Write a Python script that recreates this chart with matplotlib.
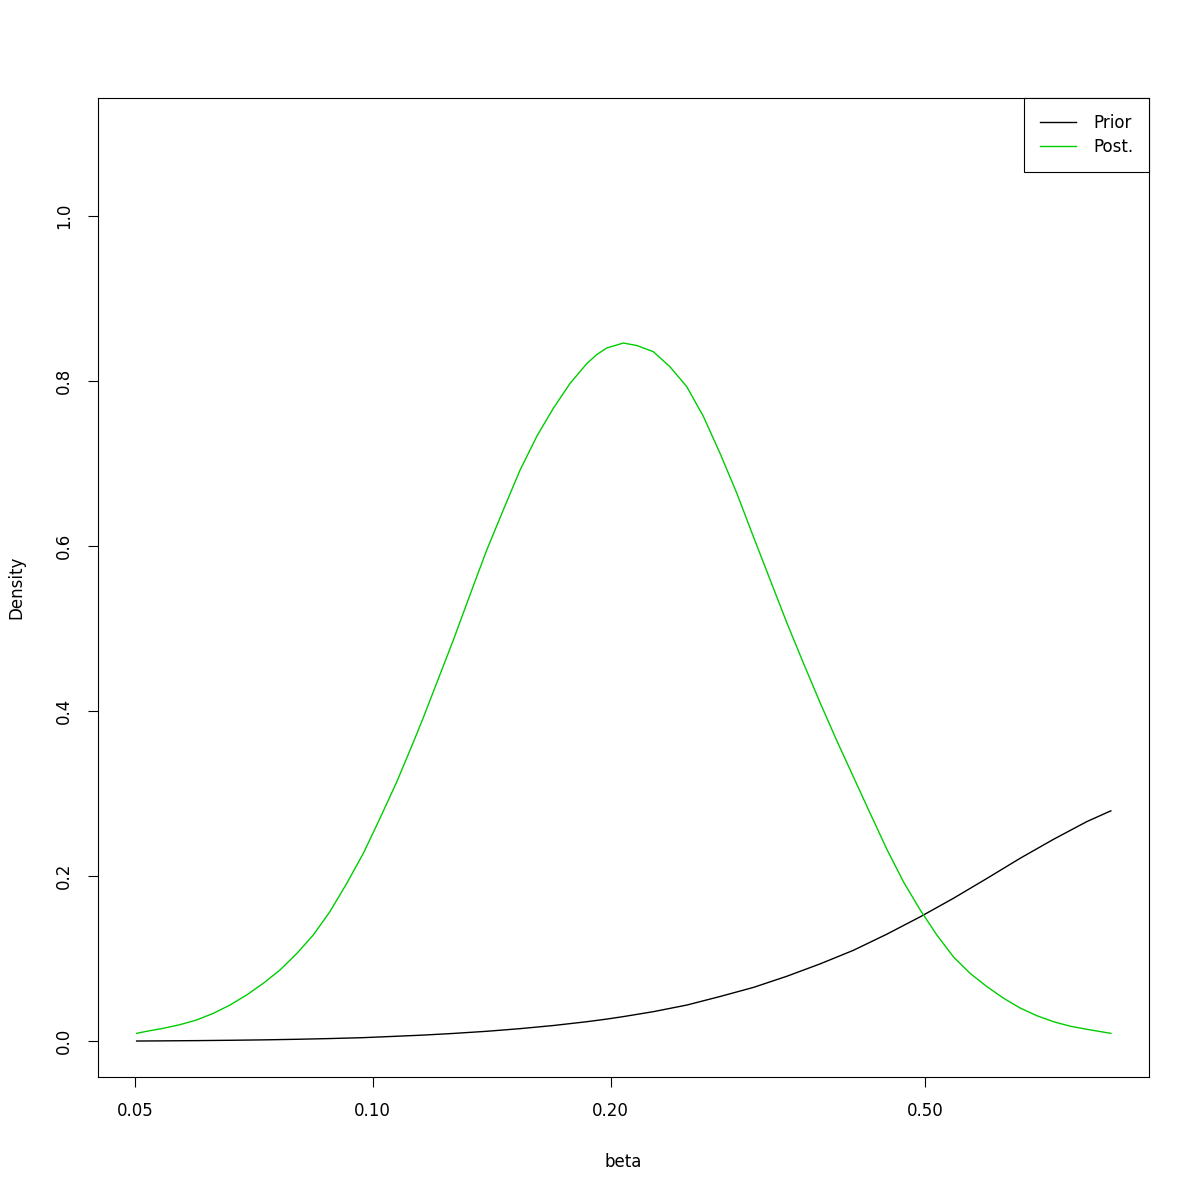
import numpy as np
import matplotlib
matplotlib.use('Agg')
import matplotlib.pyplot as plt
from matplotlib.ticker import FixedLocator, FixedFormatter, NullLocator

# values (log x axis)
beta_prior = [0.05025, 0.05430, 0.05985, 0.06595, 0.07268, 0.08011, 0.08828, 0.09728,
              0.10722, 0.11586, 0.12645, 0.13936, 0.15358, 0.16924, 0.18651, 0.19773,
              0.20752, 0.22651, 0.24968, 0.27515, 0.30321, 0.33415, 0.36820, 0.40578,
              0.44719, 0.49276, 0.54300, 0.59845, 0.65950, 0.72685, 0.80110, 0.85900]
prior = [0.0000, 0.0002, 0.0005, 0.0009, 0.0014, 0.0021, 0.0030, 0.0041,
         0.0058, 0.0072, 0.0092, 0.0118, 0.0150, 0.0188, 0.0234, 0.0266,
         0.0296, 0.0356, 0.0436, 0.0540, 0.0650, 0.0785, 0.0935, 0.1100,
         0.1295, 0.1505, 0.1730, 0.1970, 0.2215, 0.2445, 0.2660, 0.2790]

beta_post = [0.05025, 0.05174, 0.05430, 0.05700, 0.05985, 0.06281, 0.06595, 0.06924,
             0.07268, 0.07629, 0.08011, 0.08408, 0.08828, 0.09268, 0.09728, 0.10212,
             0.10722, 0.11253, 0.11586, 0.12048, 0.12645, 0.13276, 0.13936, 0.14631,
             0.15358, 0.16127, 0.16924, 0.17765, 0.18651, 0.19205, 0.19773, 0.20752,
             0.21579, 0.22651, 0.23784, 0.24968, 0.26206, 0.27515, 0.28884, 0.30321,
             0.31830, 0.33415, 0.35072, 0.36820, 0.38654, 0.40578, 0.42598, 0.44719,
             0.46937, 0.49276, 0.51734, 0.54300, 0.57006, 0.59845, 0.62811, 0.65950,
             0.69235, 0.72685, 0.76291, 0.80110, 0.85900]
post = [0.0093, 0.0118, 0.0154, 0.0198, 0.0255, 0.0335, 0.0436, 0.0558,
        0.070, 0.086, 0.106, 0.1285, 0.157, 0.191, 0.2275, 0.270,
        0.314, 0.362, 0.392, 0.434, 0.486, 0.541, 0.595, 0.644,
        0.692, 0.733, 0.767, 0.797, 0.821, 0.832, 0.840, 0.846,
        0.843, 0.8355, 0.817, 0.793, 0.757, 0.712, 0.664, 0.611,
        0.559, 0.507, 0.458, 0.410, 0.364, 0.320, 0.276, 0.2325,
        0.193, 0.159, 0.1285, 0.102, 0.082, 0.066, 0.052, 0.040,
        0.0307, 0.0234, 0.018, 0.0142, 0.0093]

xticks = [0.05, 0.10, 0.20, 0.50]
xticklabels = ['0.05', '0.10', '0.20', '0.50']
yticks = [0.0, 0.2, 0.4, 0.6, 0.8, 1.0]
yticklabels = ['0.0', '0.2', '0.4', '0.6', '0.8', '1.0']

plt.rcParams['font.family'] = 'DejaVu Sans'
plt.rcParams['font.size'] = 12

fig = plt.figure(figsize=(12, 12), dpi=100)
ax = fig.add_axes([98/1200, 1 - 1077/1200, (1149-98)/1200, (1077-98)/1200])

ax.plot(beta_prior, prior, color='black', lw=1.0, label='Prior')
ax.plot(beta_post, post, color='#00cd00', lw=1.0, label='Post.')

ax.set_xscale('log')
ax.set_xlim(0.0449, 0.960)
ax.set_ylim(-0.0436, 1.143)
ax.xaxis.set_major_locator(FixedLocator(xticks))
ax.xaxis.set_major_formatter(FixedFormatter(xticklabels))
ax.xaxis.set_minor_locator(NullLocator())
ax.set_yticks(yticks)
ax.set_yticklabels(yticklabels)
ax.tick_params(axis='both', direction='out', length=7.2, width=0.8, labelsize=12)
ax.tick_params(axis='x', pad=11)
ax.tick_params(axis='y', pad=11)
plt.setp(ax.get_yticklabels(), rotation=90, va='center')
for s in ax.spines.values():
    s.set_linewidth(0.8)

ax.set_xlabel('beta', fontsize=12)
ax.set_ylabel('Density', fontsize=12)
ax.xaxis.set_label_coords(0.5, -(1162-1077)/979)
ax.xaxis.label.set_va('center')
ax.yaxis.set_label_coords(-(98-16)/1051, 0.5)
ax.yaxis.label.set_va('center')

leg = ax.legend(loc='upper right', borderaxespad=0, fancybox=False,
                edgecolor='black', framealpha=1, handlelength=2.2,
                handletextpad=1.0, borderpad=0.95, labelspacing=0.35, fontsize=12)
leg.get_frame().set_linewidth(0.8)

fig.savefig('out.png', dpi=100, facecolor='white')
